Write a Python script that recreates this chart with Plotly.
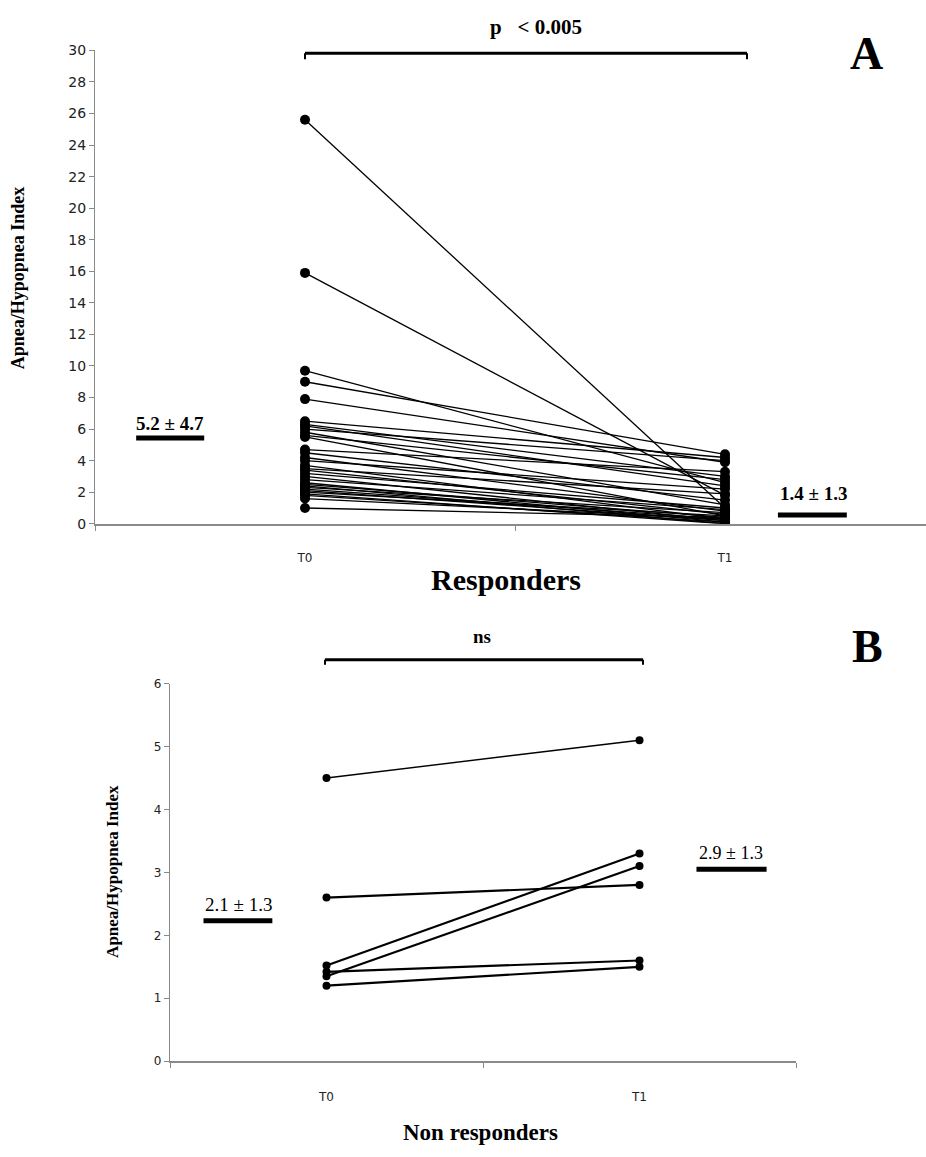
import plotly.graph_objects as go

# ---------------- data ----------------
categories = ["T0", "T1"]

# Panel A: responders (Apnea/Hypopnea Index at T0 and T1)
a_t0 = [25.6, 15.9, 9.7, 9.0, 7.9, 6.5, 6.3, 6.2, 6.0, 5.8, 5.6, 5.5, 4.7, 4.5, 4.2,
        4.0, 3.7, 3.5, 3.4, 3.2, 3.0, 2.8, 2.6, 2.5, 2.4, 2.3, 2.2, 2.1, 2.0, 1.9,
        1.8, 1.6, 1.0]
a_t1 = [1.0, 1.8, 2.6, 4.4, 3.9, 4.2, 3.0, 2.4, 4.0, 1.2, 2.8, 0.5, 3.3, 1.5, 0.8,
        2.2, 0.3, 1.9, 0.6, 1.0, 0.2, 0.9, 0.1, 0.4, 0.0, 0.7, 0.3, 0.2, 0.5, 0.0,
        0.1, 0.3, 0.4]
a_stats = ["5.2 \u00b1 4.7", "1.4 \u00b1 1.3"]

# Panel B: non responders
b_t0 = [4.5, 2.6, 1.52, 1.35, 1.42, 1.2]
b_t1 = [5.1, 2.8, 3.3, 3.1, 1.6, 1.5]
b_stats = ["2.1 \u00b1 1.3", "2.9 \u00b1 1.3"]

a_yticks = list(range(0, 31, 2))
b_yticks = list(range(0, 7, 1))

# ---------------- helpers ----------------
W, H = 926, 1157


def px(x):
    return x / W


def py(y):
    return 1 - y / H


def pairs(t0, t1):
    xs, ys = [], []
    for v0, v1 in zip(t0, t1):
        xs += [0, 1, None]
        ys += [v0, v1, None]
    return xs, ys


fig = go.Figure()

# Panel A lines
ax_, ay_ = pairs(a_t0, a_t1)
fig.add_trace(go.Scatter(x=ax_, y=ay_, mode="lines+markers",
                         line=dict(color="black", width=1.3),
                         marker=dict(color="black", size=10),
                         xaxis="x", yaxis="y", showlegend=False, hoverinfo="skip"))
# Panel B lines (first subject drawn thinner, as in the original)
bx_, by_ = pairs(b_t0[:1], b_t1[:1])
fig.add_trace(go.Scatter(x=bx_, y=by_, mode="lines+markers",
                         line=dict(color="black", width=1.4),
                         marker=dict(color="black", size=8),
                         xaxis="x2", yaxis="y2", showlegend=False, hoverinfo="skip"))
bx_, by_ = pairs(b_t0[1:], b_t1[1:])
fig.add_trace(go.Scatter(x=bx_, y=by_, mode="lines+markers",
                         line=dict(color="black", width=2.2),
                         marker=dict(color="black", size=8),
                         xaxis="x2", yaxis="y2", showlegend=False, hoverinfo="skip"))

# mean bars (panel A)
fig.add_trace(go.Scatter(x=[-0.402, -0.240], y=[5.44, 5.44], mode="lines",
                         line=dict(color="black", width=5), xaxis="x", yaxis="y",
                         showlegend=False, hoverinfo="skip"))
fig.add_trace(go.Scatter(x=[1.126, 1.290], y=[0.56, 0.56], mode="lines",
                         line=dict(color="black", width=5), xaxis="x", yaxis="y",
                         showlegend=False, hoverinfo="skip"))
# mean bars (panel B)
fig.add_trace(go.Scatter(x=[-0.393, -0.173], y=[2.23, 2.23], mode="lines",
                         line=dict(color="black", width=5), xaxis="x2", yaxis="y2",
                         showlegend=False, hoverinfo="skip"))
fig.add_trace(go.Scatter(x=[1.182, 1.406], y=[3.05, 3.05], mode="lines",
                         line=dict(color="black", width=5), xaxis="x2", yaxis="y2",
                         showlegend=False, hoverinfo="skip"))

axis_col = "#8a8a8a"

fig.update_layout(
    width=W, height=H,
    margin=dict(l=0, r=0, t=0, b=0),
    paper_bgcolor="white", plot_bgcolor="white",
    xaxis=dict(domain=[px(95), 1.0], range=[-0.5, (926 - 305) / 420],
               tickvals=[0, 1], ticktext=categories, ticks="",
               tickfont=dict(family="DejaVu Sans", size=12, color="#222"),
               showline=True, linecolor=axis_col, linewidth=1.5, showgrid=False,
               zeroline=False, anchor="y", ticklabelstandoff=22,
               minor=dict(tickvals=[-0.5, 0.5, 1.5], ticks="outside", ticklen=5,
                          tickcolor=axis_col, showgrid=False)),
    yaxis=dict(domain=[py(523), py(43)], range=[0, 30], tickvals=a_yticks,
               ticks="outside", ticklen=5, tickcolor=axis_col,
               tickfont=dict(family="DejaVu Sans", size=14, color="#222"),
               showline=True, linecolor=axis_col, linewidth=1,
               showgrid=False, zeroline=False, anchor="x"),
    xaxis2=dict(domain=[px(170), px(796)], range=[-0.5, 1.5],
                tickvals=[0, 1], ticktext=categories, ticks="",
                tickfont=dict(family="DejaVu Sans", size=12, color="#222"),
                showline=True, linecolor=axis_col, linewidth=1.5, showgrid=False,
                zeroline=False, anchor="y2", ticklabelstandoff=24,
                minor=dict(tickvals=[-0.5, 0.5, 1.5], ticks="outside", ticklen=5,
                           tickcolor=axis_col, showgrid=False)),
    yaxis2=dict(domain=[py(1068), py(685)], range=[0, 6], tickvals=b_yticks,
                ticks="outside", ticklen=5, tickcolor=axis_col,
                tickfont=dict(family="DejaVu Sans", size=12, color="#222"),
                showline=True, linecolor=axis_col, linewidth=1.2,
                showgrid=False, zeroline=False, anchor="x2"),
)

serif = "Liberation Serif"
ann = []
# titles / labels
ann.append(dict(text="<b>Apnea/Hypopnea Index</b>", x=px(18), y=py(274), textangle=-90,
                font=dict(family=serif, size=18, color="black")))
ann.append(dict(text="<b>Responders</b>", x=px(506), y=py(580),
                font=dict(family=serif, size=30, color="black")))
ann.append(dict(text="<b>p&nbsp;&nbsp;&nbsp;< 0.005</b>", x=px(536), y=py(19),
                font=dict(family=serif, size=21, color="black")))
ann.append(dict(text="<b>A</b>", x=px(866), y=py(46),
                font=dict(family=serif, size=46, color="black")))
ann.append(dict(text="<b>%s</b>" % a_stats[0], x=px(170), y=py(421),
                font=dict(family=serif, size=19, color="black")))
ann.append(dict(text="<b>%s</b>" % a_stats[1], x=px(813), y=py(492),
                font=dict(family=serif, size=19, color="black")))

ann.append(dict(text="<b>Apnea/Hypopnea Index</b>", x=px(113), y=py(876), textangle=-90,
                font=dict(family=serif, size=17, color="black")))
ann.append(dict(text="<b>Non responders</b>", x=px(480), y=py(1140),
                font=dict(family=serif, size=23, color="black")))
ann.append(dict(text="<b>ns</b>", x=px(482), y=py(637),
                font=dict(family=serif, size=19, color="black")))
ann.append(dict(text="<b>B</b>", x=px(867), y=py(647),
                font=dict(family=serif, size=46, color="black")))
ann.append(dict(text=b_stats[0], x=px(238), y=py(909),
                font=dict(family=serif, size=19, color="black")))
ann.append(dict(text=b_stats[1], x=px(731), y=py(857),
                font=dict(family=serif, size=18, color="black")))

for a in ann:
    a.update(xref="paper", yref="paper", showarrow=False, xanchor="center", yanchor="middle")
fig.update_layout(annotations=ann)

# significance brackets
shapes = []
for (x0, x1, y, tick) in [(px(305), px(747), py(46), 6), (px(325), px(643), py(661), 5)]:
    shapes.append(dict(type="line", xref="paper", yref="paper", x0=x0, x1=x1, y0=y, y1=y,
                       line=dict(color="black", width=3)))
    for xx in (x0, x1):
        shapes.append(dict(type="line", xref="paper", yref="paper", x0=xx, x1=xx,
                           y0=y, y1=y - tick / H, line=dict(color="black", width=2)))
fig.update_layout(shapes=shapes)

fig.write_html("out.html", config={"displayModeBar": False},
               post_script="document.body.style.margin='0';")
